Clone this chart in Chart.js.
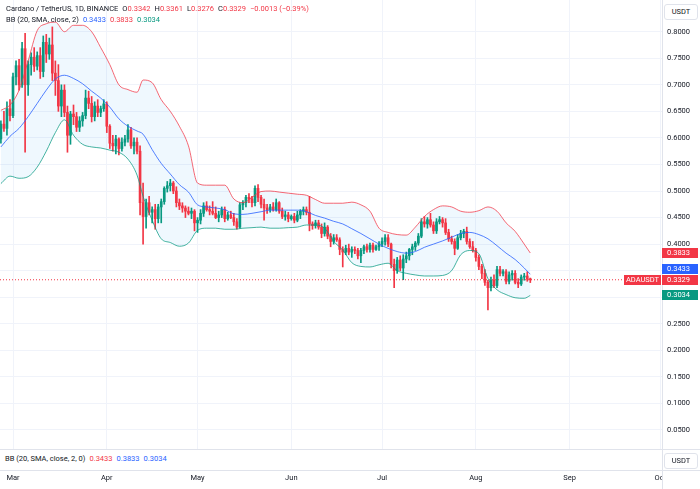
<!DOCTYPE html>
<html><head><meta charset="utf-8">
<script src="https://cdn.jsdelivr.net/npm/chart.js@4.4.1/dist/chart.umd.min.js"></script>
<style>
html,body{margin:0;padding:0;background:#fff;}
#wrap{position:relative;width:700px;height:489px;overflow:hidden;font-family:Roboto,"Noto Sans",sans-serif;}
#c{position:absolute;left:0;top:0;}
.t{position:absolute;white-space:nowrap;font-size:7.5px;line-height:10px;color:#131722;}
.t span{margin-left:4px;}
.hl{position:absolute;height:1px;background:#e0e3eb;}
.vl{position:absolute;width:1px;background:#e0e3eb;}
.btn{position:absolute;left:664px;width:32px;height:14px;border:1px solid #e0e3eb;border-radius:3px;font-size:7.5px;line-height:14px;text-align:center;color:#131722;background:#fff;}
.pb{position:absolute;left:662px;width:36px;height:10px;font-size:7.5px;line-height:10px;color:#fff;padding-left:5px;box-sizing:border-box;}
</style></head><body>
<div id="wrap">
<canvas id="c" width="700" height="489"></canvas>
<div class="t" id="lg1" style="left:6px;top:4px"></div>
<div class="t" id="lg2" style="left:6px;top:15px"></div>
<div class="btn" style="top:4px">USDT</div>
<div style="position:absolute;left:0;top:450px;width:700px;height:20px;background:#fff"></div>
<div class="hl" style="left:0;top:449px;width:700px"></div>
<div class="hl" style="left:0;top:470px;width:700px"></div>
<div class="vl" style="left:662px;top:449px;height:40px"></div>
<div style="position:absolute;left:663px;top:471px;width:37px;height:18px;background:#fff"></div>
<div class="t" id="lg3" style="left:5px;top:454px"></div>
<div class="btn" style="top:453px">USDT</div>
<div id="boxes"></div>
</div>
<script>
// ---- data: ADA/USDT daily candles from 2024-02-26 ----
const candleStart = '2024-02-26';
const symbol = 'ADAUSDT';
const opens = [
.598,.626,.618,.655,.642,.715,.736,.700,.768,.700,
.738,.752,.735,.755,.725,.780,.758,.775,.722,.708,
.660,.690,.648,.605,.645,.640,.620,.632,.642,.675,
.665,.640,.660,.648,.655,.664,.622,.590,.585,.598,
.580,.592,.598,.615,.585,.592,.575,.478,.452,.478,
.460,.465,.448,.470,.480,.505,.510,.515,.500,.478,
.472,.468,.462,.458,.462,.440,.445,.458,.472,.465,
.462,.458,.450,.455,.465,.448,.455,.450,.442,.432,
.474,.478,.488,.485,.478,.505,.488,.475,.468,.465,
.470,.465,.478,.462,.452,.455,.448,.452,.445,.455,
.462,.465,.460,.438,.435,.440,.432,.420,.432,.415,
.405,.412,.408,.390,.385,.392,.385,.390,.388,.378,
.388,.395,.390,.398,.390,.395,.400,.405,.412,.400,
.362,.350,.370,.355,.372,.378,.390,.395,.402,.415,
.442,.438,.446,.436,.425,.442,.446,.440,.422,.410,
.405,.392,.412,.420,.424,.405,.395,.388,.375,.358,
.345,.328,.318,.332,.322,.352,.345,.348,.330,.342,
.345,.328,.325,.338,.340,.3342];
const highs = [
.632,.650,.668,.672,.722,.745,.748,.780,.797,.745,
.760,.770,.762,.770,.792,.795,.788,.809,.745,.738,
.700,.700,.660,.650,.662,.648,.640,.648,.690,.688,
.678,.668,.672,.660,.672,.668,.625,.605,.605,.600,
.600,.605,.625,.620,.600,.600,.585,.515,.485,.490,
.470,.475,.475,.485,.508,.518,.522,.518,.508,.485,
.478,.472,.470,.468,.465,.450,.465,.478,.480,.472,
.480,.470,.462,.470,.470,.460,.462,.458,.448,.478,
.482,.492,.495,.490,.510,.512,.492,.485,.475,.475,
.478,.485,.480,.468,.462,.460,.455,.458,.462,.465,
.470,.470,.490,.442,.445,.445,.438,.440,.435,.420,
.418,.418,.412,.395,.398,.400,.395,.395,.392,.392,
.398,.400,.402,.402,.398,.405,.412,.418,.418,.402,
.372,.375,.378,.380,.385,.392,.400,.405,.420,.448,
.452,.450,.458,.442,.448,.452,.450,.448,.428,.415,
.410,.418,.426,.428,.432,.410,.405,.392,.380,.362,
.352,.332,.338,.342,.358,.358,.352,.352,.348,.350,
.350,.335,.342,.345,.348,.3361];
const lows = [
.590,.612,.605,.632,.638,.700,.690,.695,.573,.680,
.718,.725,.728,.712,.715,.742,.748,.708,.680,.650,
.640,.640,.573,.588,.625,.612,.612,.622,.636,.655,
.630,.632,.640,.640,.650,.610,.580,.575,.570,.568,
.575,.585,.592,.580,.570,.570,.455,.400,.430,.455,
.440,.428,.440,.440,.475,.498,.500,.495,.470,.465,
.460,.450,.455,.448,.425,.422,.438,.452,.462,.455,
.455,.448,.442,.450,.442,.445,.448,.435,.428,.430,
.465,.470,.478,.470,.472,.480,.468,.445,.458,.460,
.462,.462,.458,.448,.445,.442,.445,.440,.442,.448,
.455,.455,.425,.428,.430,.428,.412,.415,.410,.395,
.400,.405,.380,.357,.380,.380,.375,.382,.372,.365,
.382,.385,.385,.385,.388,.388,.395,.398,.395,.355,
.318,.345,.350,.333,.365,.370,.380,.388,.398,.412,
.432,.430,.432,.420,.420,.438,.432,.418,.405,.400,
.380,.390,.408,.412,.400,.392,.385,.368,.352,.335,
.322,.276,.312,.318,.318,.340,.340,.325,.325,.332,
.325,.318,.322,.332,.330,.3276];
const closes = [
.626,.618,.655,.642,.715,.736,.700,.768,.700,.738,
.752,.735,.755,.725,.780,.758,.775,.722,.708,.660,
.690,.648,.605,.645,.640,.620,.632,.642,.675,.665,
.640,.660,.648,.655,.664,.622,.590,.585,.598,.580,
.592,.598,.615,.585,.592,.575,.478,.452,.478,.460,
.465,.448,.470,.480,.505,.510,.515,.500,.478,.472,
.468,.462,.458,.462,.440,.445,.458,.472,.465,.462,
.458,.450,.455,.465,.448,.455,.450,.442,.432,.474,
.478,.488,.485,.478,.505,.488,.475,.468,.465,.470,
.465,.478,.462,.452,.455,.448,.452,.445,.455,.462,
.465,.460,.438,.435,.440,.432,.420,.432,.415,.405,
.412,.408,.390,.385,.392,.385,.390,.388,.378,.388,
.395,.390,.398,.390,.395,.400,.405,.412,.400,.362,
.350,.370,.355,.372,.378,.390,.395,.402,.415,.442,
.438,.446,.436,.425,.442,.446,.440,.422,.410,.405,
.392,.412,.420,.424,.405,.395,.388,.375,.358,.345,
.328,.318,.332,.322,.352,.345,.348,.330,.342,.345,
.328,.325,.338,.340,.3342,.3329];

// Bollinger Bands (20, SMA, close, 2); day offsets from 2024-03-01
const bbDays = [-4,-1,2,5,8,11,14,17,20,23,26,29,32,35,38,41,43,46,49,52,55,58,61,64,67,70,73,76,79,82,85,88,91,94,97,100,103,106,109,112,115,118,121,124,127,130,133,136,139,142,145,148,151,154,157,160,163,166,169,171];
const bbUpper = [.652,.662,.690,.745,.802,.815,.818,.800,.812,.812,.800,.770,.738,.700,.691,.686,.709,.704,.672,.650,.622,.585,.515,.511,.511,.511,.485,.478,.488,.499,.500,.498,.496,.494,.492,.484,.477,.477,.477,.479,.474,.462,.430,.422,.418,.417,.432,.452,.465,.472,.470,.462,.460,.463,.470,.462,.440,.424,.400,.3833];
const bbMiddle = [.583,.603,.618,.640,.665,.690,.711,.718,.712,.702,.688,.675,.658,.636,.622,.613,.607,.578,.552,.532,.512,.498,.474,.470,.468,.465,.457,.456,.458,.461,.464,.464,.464,.464,.461,.454,.449,.443,.438,.429,.420,.410,.400,.392,.386,.383,.386,.394,.400,.406,.413,.420,.422,.418,.410,.397,.383,.371,.355,.3433];
const bbLower = [.514,.528,.524,.527,.545,.575,.610,.634,.605,.588,.583,.581,.577,.573,.560,.530,.490,.445,.410,.403,.396,.402,.426,.430,.430,.428,.428,.430,.431,.432,.430,.430,.431,.432,.436,.436,.430,.405,.389,.365,.358,.357,.361,.364,.350,.345,.342,.340,.340,.341,.350,.380,.388,.382,.335,.314,.305,.299,.298,.3034];

const priceTicks = [0.05,0.10,0.15,0.20,0.25,0.30,0.35,0.40,0.45,0.50,0.55,0.60,0.65,0.70,0.75,0.80];
const monthTickDays = [0,31,61,92,122,153,184,214];
const monthLabels = ['Mar','Apr','May','Jun','Jul','Aug','Sep','Oct'];

// ---- styles / layout ----
const UP = '#089981', DOWN = '#F23645', BLUE = '#2962FF';
const FONT = {family:'Roboto', size:7.5};
const xMin = -4.3, xMax = 214.54;
const yMax = 0.8597, yMin = 0.0142;

const DAY = 86400000;
const startOffset = Math.round((Date.parse(candleStart + 'T00:00:00Z') - Date.UTC(2024, 2, 1)) / DAY);
const candleX = opens.map((_, i) => startOffset + i);
const n = closes.length;
const isUp = i => closes[i] >= opens[i];
const lastClose = closes[n - 1];

const pts = arr => bbDays.map((d, i) => ({x: d, y: arr[i]}));

const datasets = [
  {type:'line', data: pts(bbUpper), borderColor:'rgba(242,54,69,0.75)', borderWidth:1, pointRadius:0,
   cubicInterpolationMode:'monotone', fill:2, backgroundColor:'rgba(33,150,243,0.07)', order:0},
  {type:'line', data: pts(bbMiddle), borderColor:'rgba(41,98,255,0.8)', borderWidth:1, pointRadius:0,
   cubicInterpolationMode:'monotone', fill:false, order:0},
  {type:'line', data: pts(bbLower), borderColor:'rgba(8,153,129,0.75)', borderWidth:1, pointRadius:0,
   cubicInterpolationMode:'monotone', fill:false, order:0},
  {type:'line', data:[{x:xMin, y:lastClose},{x:xMax, y:lastClose}], borderColor:DOWN, borderWidth:1,
   borderDash:[1,2], pointRadius:0, fill:false, order:0},
  {type:'bar', data: candleX.map((d, i) => ({x:d, y:[lows[i], highs[i]]})), barThickness:1, grouped:false,
   backgroundColor: c => isUp(c.dataIndex) ? UP : DOWN, order:2},
  {type:'bar', data: candleX.map((d, i) => ({x:d, y:[opens[i], closes[i]]})), barThickness:2, minBarLength:1, grouped:false,
   backgroundColor: c => isUp(c.dataIndex) ? UP : DOWN, order:1}
];

const boxPlugin = {
  id:'boxes',
  afterRender(chart){
    const ys = chart.scales.y;
    const host = document.getElementById('boxes');
    host.innerHTML = '';
    const yMain = ys.getPixelForValue(lastClose);
    const items = [
      {v: bbUpper[bbUpper.length-1], c: DOWN},
      {v: bbMiddle[bbMiddle.length-1], c: BLUE},
      {v: bbLower[bbLower.length-1], c: UP}
    ];
    const put = (y, c, txt) => {
      const d = document.createElement('div');
      d.className = 'pb'; d.style.top = (y - 5) + 'px'; d.style.background = c; d.textContent = txt;
      host.appendChild(d);
    };
    items.forEach(it => {
      let y = ys.getPixelForValue(it.v);
      if (Math.abs(y - yMain) < 10.5) y = y < yMain ? yMain - 10.5 : yMain + 10.5;
      put(y, it.c, it.v.toFixed(4));
    });
    put(yMain, DOWN, lastClose.toFixed(4));
    const s = document.createElement('div');
    s.className = 'pb';
    s.style.left = '624px'; s.style.width = '37px'; s.style.paddingLeft = '0'; s.style.textAlign = 'center';
    s.style.top = (yMain - 5) + 'px'; s.style.background = DOWN; s.textContent = symbol;
    host.appendChild(s);
  }
};

new Chart(document.getElementById('c'), {
  type:'bar',
  data:{datasets},
  plugins:[boxPlugin],
  options:{
    responsive:false, animation:false, devicePixelRatio:1,
    layout:{padding:0},
    plugins:{legend:{display:false}, tooltip:{enabled:false}, filler:{drawTime:'beforeDatasetsDraw'}},
    scales:{
      x:{type:'linear', min:xMin, max:xMax, offset:false,
         grid:{color:'#f0f3fa', drawTicks:false, offset:false}, border:{color:'#e0e3eb'},
         afterBuildTicks: s => { s.ticks = monthTickDays.map(v => ({value:v})); },
         ticks:{autoSkip:false, maxRotation:0, padding:25, font:FONT, color:'#131722',
                callback: v => monthLabels[monthTickDays.indexOf(v)]},
         afterFit: s => { s.height = 40; s.paddingLeft = 0; s.paddingRight = 0; }},
      y:{type:'linear', position:'right', min:yMin, max:yMax,
         grid:{color:'#f0f3fa', drawTicks:false}, border:{color:'#e0e3eb'},
         afterBuildTicks: s => { s.ticks = priceTicks.map(v => ({value:v})); },
         ticks:{padding:5, font:FONT, color:'#131722', callback: v => v.toFixed(4)},
         afterFit: s => { s.width = 38; s.paddingTop = 0; s.paddingBottom = 0; }}
    }
  }
});

// ---- legends ----
const f4 = v => v.toFixed(4);
const chg = lastClose - closes[n-2];
const pct = chg / closes[n-2] * 100;
const red = t => '<b style="font-weight:normal;color:' + DOWN + '">' + t + '</b>';
document.getElementById('lg1').innerHTML =
  'Cardano / TetherUS, 1D, BINANCE' +
  '<span>O' + red(f4(opens[n-1])) + '</span>' +
  '<span>H' + red(f4(highs[n-1])) + '</span>' +
  '<span>L' + red(f4(lows[n-1])) + '</span>' +
  '<span>C' + red(f4(lastClose)) + '</span>' +
  '<span>' + red('\u2212' + Math.abs(chg).toFixed(4) + ' (\u2212' + Math.abs(pct).toFixed(2) + '%)') + '</span>';
const uL = bbUpper[bbUpper.length-1], mL = bbMiddle[bbMiddle.length-1], lL = bbLower[bbLower.length-1];
document.getElementById('lg2').innerHTML =
  'BB (20, SMA, close, 2)' +
  '<span style="color:' + BLUE + '">' + f4(mL) + '</span>' +
  '<span style="color:' + DOWN + '">' + f4(uL) + '</span>' +
  '<span style="color:' + UP + '">' + f4(lL) + '</span>';
document.getElementById('lg3').innerHTML =
  'BB (20, SMA, close, 2, 0)' +
  '<span style="color:' + DOWN + '">' + f4(mL) + '</span>' +
  '<span style="color:' + BLUE + '">' + f4(uL) + '</span>' +
  '<span style="color:' + BLUE + '">' + f4(lL) + '</span>';
</script>
</body></html>
